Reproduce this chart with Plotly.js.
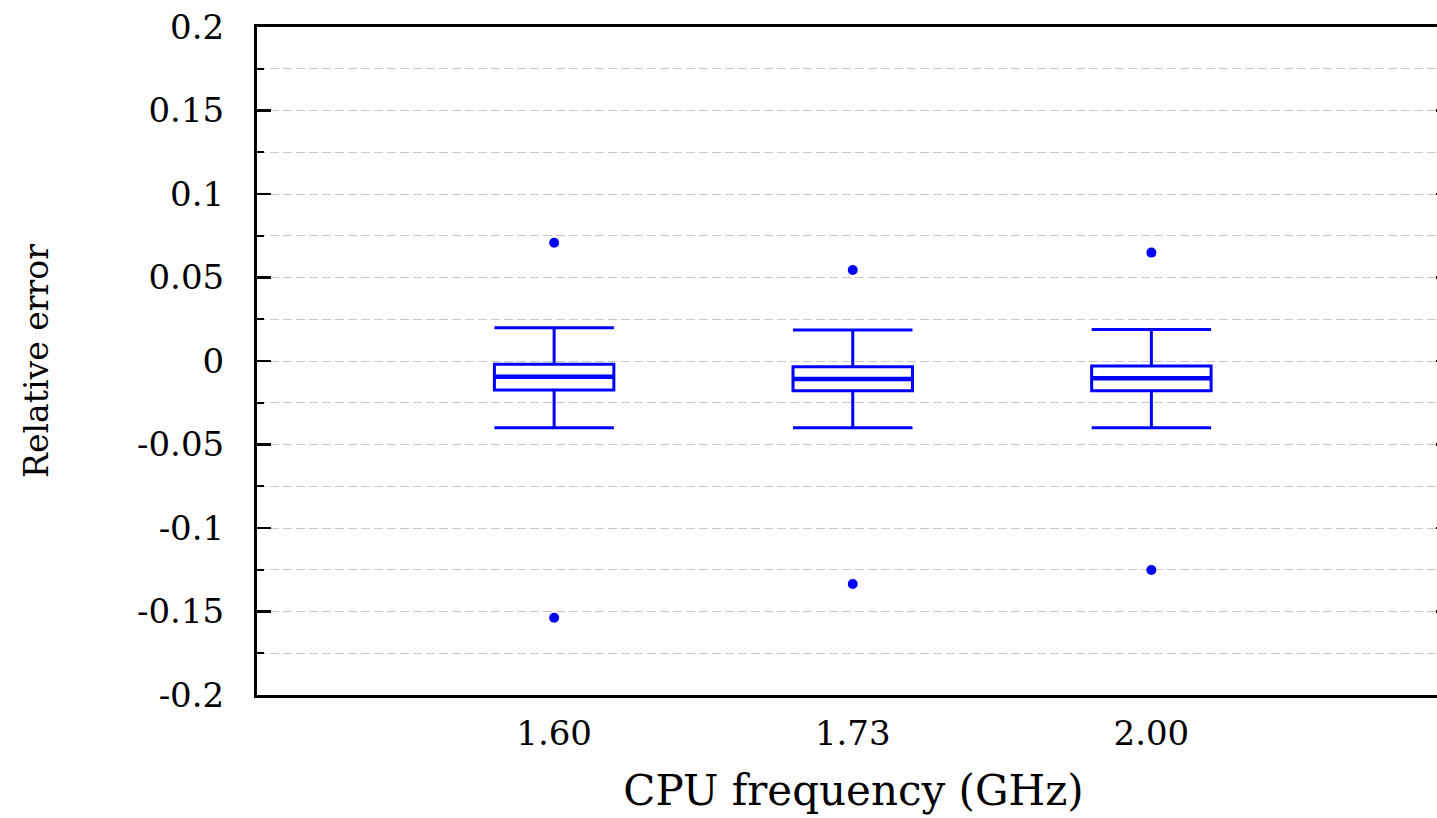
<!DOCTYPE html>
<html>
<head>
<meta charset="utf-8">
<script src="https://cdn.plot.ly/plotly-3.0.1.min.js"></script>
<style>
html, body { margin: 0; padding: 0; overflow: hidden; background: #fff; }
#chart { width: 1450px; height: 818px; }
</style>
</head>
<body>
<div id="chart"></div>
<script>
// Categories (CPU frequency, GHz)
const categories = ['1.60', '1.73', '2.00'];
// Box statistics
const lowerWhisker = [-0.040, -0.040, -0.040];
const q1Values     = [-0.0174, -0.0178, -0.0178];
const medianValues = [-0.0094, -0.0108, -0.0104];
const q3Values     = [-0.0020, -0.0034, -0.0030];
const upperWhisker = [0.0199, 0.0186, 0.0188];
// Outliers
const highOutliers = [0.0708, 0.0545, 0.0649];
const lowOutliers  = [-0.1537, -0.1335, -0.1251];
// Y tick labels
const yTickVals = [-0.2, -0.15, -0.1, -0.05, 0, 0.05, 0.1, 0.15, 0.2];
const yTickText = ['-0.2', '-0.15', '-0.1', '-0.05', '0', '0.05', '0.1', '0.15', '0.2'];

const blue = '#0000ff';
const font = 'DejaVu Serif';
const gridColor = '#c8c8c8';

const traces = [
  {
    type: 'box',
    x: categories,
    q1: q1Values,
    median: medianValues,
    q3: q3Values,
    lowerfence: lowerWhisker,
    upperfence: upperWhisker,
    width: 0.4,
    whiskerwidth: 1,
    line: { color: blue, width: 3 },
    fillcolor: 'rgba(255,255,255,0)',
    boxpoints: false,
    showlegend: false,
    hoverinfo: 'skip'
  },
  {
    // thicker median line overlay
    type: 'box',
    x: categories,
    q1: medianValues,
    median: medianValues,
    q3: medianValues,
    lowerfence: medianValues,
    upperfence: medianValues,
    width: 0.4,
    whiskerwidth: 1,
    line: { color: blue, width: 4.5 },
    fillcolor: 'rgba(255,255,255,0)',
    boxpoints: false,
    showlegend: false,
    hoverinfo: 'skip'
  },
  {
    type: 'scatter',
    mode: 'markers',
    x: categories.concat(categories),
    y: highOutliers.concat(lowOutliers),
    marker: { color: blue, size: 10 },
    showlegend: false,
    hoverinfo: 'skip'
  }
];

const layout = {
  width: 1450,
  height: 818,
  margin: { l: 257, r: 0, t: 27, b: 123 },
  paper_bgcolor: '#fff',
  plot_bgcolor: '#fff',
  boxmode: 'overlay',
  showlegend: false,
  font: { family: font, color: '#000', size: 33 },
  xaxis: {
    type: 'category',
    range: [-0.995, 3.0],
    showline: true,
    linecolor: '#000',
    linewidth: 3,
    mirror: true,
    ticks: '',
    showgrid: false,
    zeroline: false,
    tickfont: { family: font, size: 34, color: '#000' },
    ticklabelstandoff: 6,
    title: { text: 'CPU frequency (GHz)', font: { family: font, size: 42, color: '#000' }, standoff: 24 }
  },
  yaxis: {
    range: [-0.2, 0.2],
    tickmode: 'array',
    tickvals: yTickVals,
    ticktext: yTickText,
    ticks: 'inside',
    ticklen: 14,
    tickwidth: 2.5,
    tickcolor: '#000',
    showline: true,
    linecolor: '#000',
    linewidth: 3,
    mirror: 'ticks',
    showgrid: true,
    gridcolor: gridColor,
    gridwidth: 1,
    griddash: '9px,4px',
    zeroline: false,
    tickfont: { family: font, size: 34, color: '#000' },
    ticklabelstandoff: 23,
    minor: {
      dtick: 0.025,
      tick0: 0,
      ticks: 'inside',
      ticklen: 7,
      tickwidth: 2,
      tickcolor: '#000',
      showgrid: true,
      gridcolor: gridColor,
      gridwidth: 1,
      griddash: '9px,4px'
    },
    title: { text: 'Relative error', font: { family: font, size: 33, color: '#000' }, standoff: 79 }
  }
};

Plotly.newPlot('chart', traces, layout, { displayModeBar: false, staticPlot: true });
</script>
</body>
</html>
